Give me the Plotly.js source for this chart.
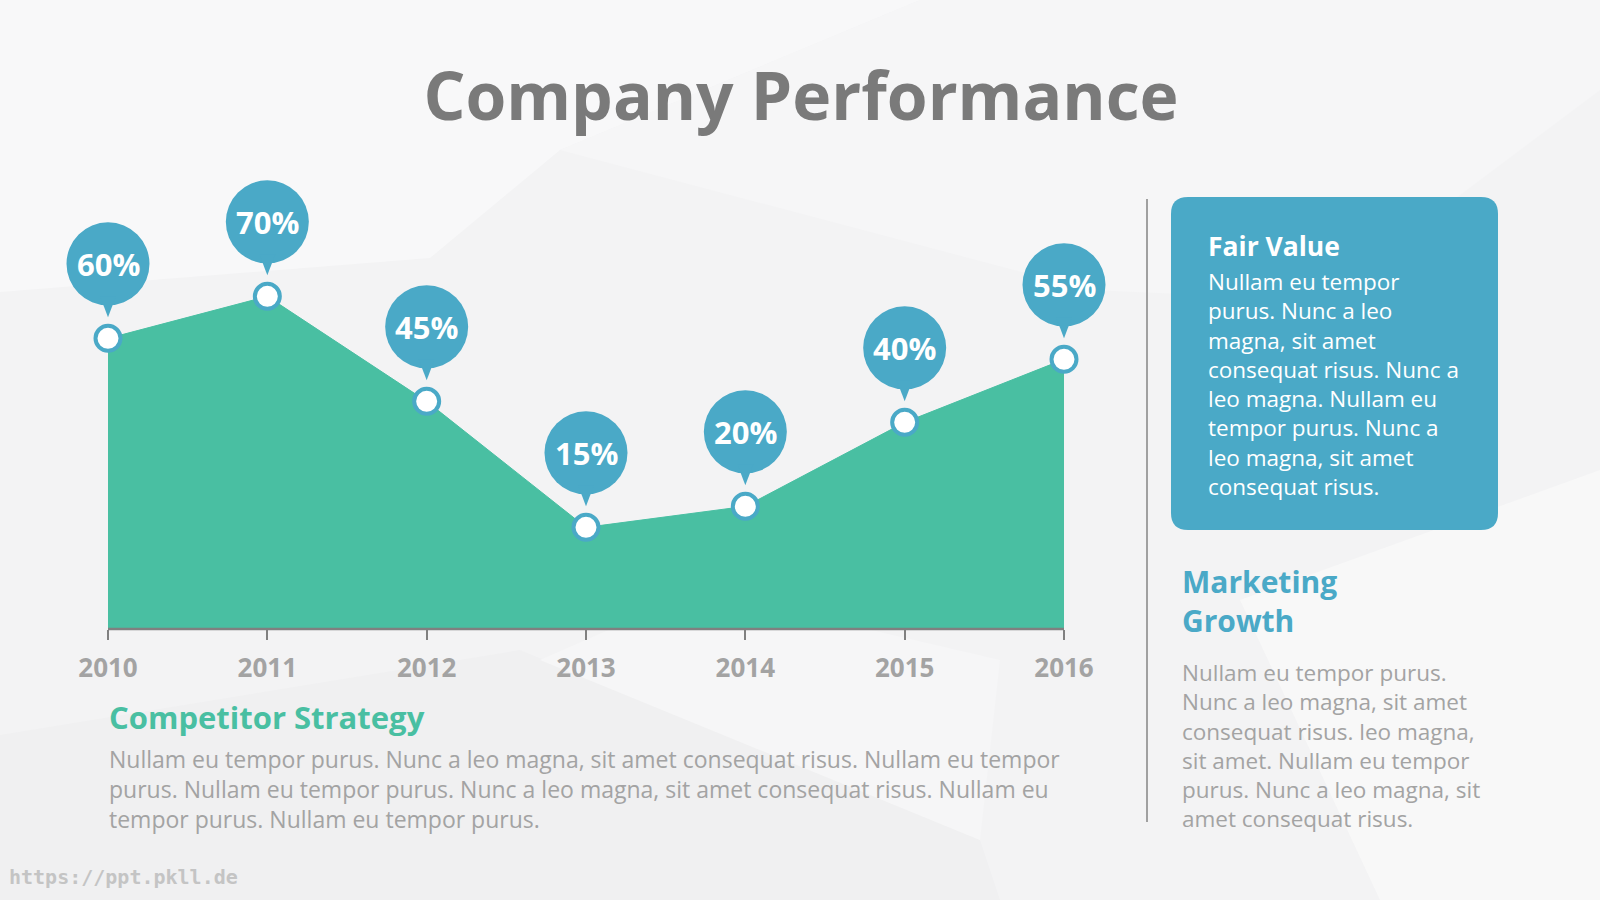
<!DOCTYPE html>
<html>
<head>
<meta charset="utf-8">
<script src="https://cdn.plot.ly/plotly-3.0.1.min.js"></script>
<style>
html,body{margin:0;padding:0;background:#F3F3F4;}
#chart{width:1600px;height:900px;}
</style>
</head>
<body>
<div id="chart"></div>
<script>
// ---------------- data ----------------
const years = [2010, 2011, 2012, 2013, 2014, 2015, 2016];
const growth = [60, 70, 45, 15, 20, 40, 55];
const tickLabels = ['2010', '2011', '2012', '2013', '2014', '2015', '2016'];
const pageTitle = 'Company Performance';
const fairValueTitle = 'Fair Value';
const fairValueLines = ['Nullam eu tempor', 'purus. Nunc a leo', 'magna, sit amet', 'consequat risus. Nunc a',
  'leo magna. Nullam eu', 'tempor purus. Nunc a', 'leo magna, sit amet', 'consequat risus.'];
const marketingTitleLines = ['Marketing', 'Growth'];
const marketingLines = ['Nullam eu tempor purus.', 'Nunc a leo magna, sit amet', 'consequat risus. leo magna,',
  'sit amet. Nullam eu tempor', 'purus. Nunc a leo magna, sit', 'amet consequat risus.'];
const competitorTitle = 'Competitor Strategy';
const competitorLines = ['Nullam eu tempor purus. Nunc a leo magna, sit amet consequat risus. Nullam eu tempor',
  'purus. Nullam eu tempor purus. Nunc a leo magna, sit amet consequat risus. Nullam eu',
  'tempor purus. Nullam eu tempor purus.'];
const watermark = 'https://ppt.pkll.de';

// ---------------- styles / layout geometry ----------------
const GREEN = '#49BFA2', BLUE = '#4AA9C7', GREY_T = '#7A7A7A', GREY_TXT = '#A3A3A3';
const FONT = 'Open Sans, Noto Sans, sans-serif';
const PLOT = {l: 40, r: 1130, t: 150, b: 629};         // plot area in pixels
const X_FIRST_PX = 108, X_LAST_PX = 1064;               // where first/last year sit
const pxPerYear = (X_LAST_PX - X_FIRST_PX) / (years[years.length - 1] - years[0]);
const xRange = [years[0] - (X_FIRST_PX - PLOT.l) / pxPerYear,
                years[years.length - 1] + (PLOT.r - X_LAST_PX) / pxPerYear];
const Y_BASE = -9.2, pxPerUnit = 4.2;
const yRange = [Y_BASE, Y_BASE + (PLOT.b - PLOT.t) / pxPerUnit];

const px2paperX = X => (X - PLOT.l) / (PLOT.r - PLOT.l);
const px2paperY = Y => (PLOT.b - Y) / (PLOT.b - PLOT.t);

function textLine(text, X, Y, size, color, weight, family) {
  return {xref: 'paper', yref: 'paper', x: px2paperX(X), y: px2paperY(Y), xanchor: 'left', yanchor: 'middle',
    align: 'left', text: text, showarrow: false,
    font: {family: family || FONT, size: size, color: color, weight: weight || 400}};
}
// multi-line block, centred vertically between first and last line positions
function paragraph(lines, X, yFirst, yLast, size, color, weight) {
  return textLine(lines.join('<br>'), X, (yFirst + yLast) / 2, size, color, weight);
}
function roundRectPath(x0, y0, x1, y1, r) {
  const P = (x, y) => px2paperX(x).toFixed(5) + ',' + px2paperY(y).toFixed(5);
  return 'M' + P(x0 + r, y0) + ' L' + P(x1 - r, y0) + ' Q' + P(x1, y0) + ' ' + P(x1, y0 + r) +
    ' L' + P(x1, y1 - r) + ' Q' + P(x1, y1) + ' ' + P(x1 - r, y1) +
    ' L' + P(x0 + r, y1) + ' Q' + P(x0, y1) + ' ' + P(x0, y1 - r) +
    ' L' + P(x0, y0 + r) + ' Q' + P(x0, y0) + ' ' + P(x0 + r, y0) + ' Z';
}
function polyPath(pts) {
  return pts.map((p, i) => (i ? 'L' : 'M') + px2paperX(p[0]).toFixed(5) + ',' + px2paperY(p[1]).toFixed(5)).join(' ') + ' Z';
}

// ---------------- traces ----------------
const traces = [
  {x: years, y: years.map(() => Y_BASE), mode: 'lines', line: {width: 0, color: GREEN},
   hoverinfo: 'skip', showlegend: false},
  {x: years, y: growth, mode: 'lines', fill: 'tonexty', fillcolor: GREEN,
   line: {width: 1, color: GREEN}, hoverinfo: 'skip', showlegend: false},
  {x: years, y: growth, mode: 'markers', cliponaxis: false,
   marker: {size: 25, color: '#FFFFFF', line: {color: BLUE, width: 4}},
   hoverinfo: 'skip', showlegend: false}
];

// ---------------- shapes ----------------
const shapes = [];
// subtle low-poly background
const bgPolys = [
  {pts: [[0,0],[920,0],[560,150],[430,258],[0,292]], c: '#F8F8F9'},
  {pts: [[920,0],[1600,0],[1600,90],[1320,300],[1090,290],[560,150]], c: '#F6F6F7'},
  {pts: [[1240,600],[1600,470],[1600,900],[1380,900]], c: '#F8F8F8'},
  {pts: [[0,735],[520,650],[980,840],[1000,900],[0,900]], c: '#F0F0F1'},
  {pts: [[540,660],[700,590],[1000,660],[980,840]], c: '#F6F6F7'}
];
bgPolys.forEach(p => shapes.push({type: 'path', xref: 'paper', yref: 'paper', layer: 'below',
  path: polyPath(p.pts), fillcolor: p.c, line: {width: 0}}));
// axis line between first and last year
shapes.push({type: 'line', xref: 'x', yref: 'paper', x0: years[0], x1: years[years.length - 1], y0: 0, y1: 0,
  line: {color: '#808080', width: 2.5}});
// pins above each point
years.forEach((yr, i) => {
  shapes.push({type: 'circle', xref: 'x', yref: 'y', xsizemode: 'pixel', ysizemode: 'pixel',
    xanchor: yr, yanchor: growth[i], x0: -41.5, x1: 41.5, y0: 33, y1: 116,
    fillcolor: BLUE, line: {width: 0}});
  shapes.push({type: 'path', xref: 'x', yref: 'y', xsizemode: 'pixel', ysizemode: 'pixel',
    xanchor: yr, yanchor: growth[i], path: 'M-8,42 L8,42 L0,21 Z',
    fillcolor: BLUE, line: {width: 0}});
});
// right panel: separator + box
shapes.push({type: 'line', xref: 'paper', yref: 'paper', x0: px2paperX(1147), x1: px2paperX(1147),
  y0: px2paperY(199), y1: px2paperY(822), line: {color: '#A0A0A0', width: 2}});
shapes.push({type: 'path', xref: 'paper', yref: 'paper', path: roundRectPath(1171, 197, 1498, 530, 17),
  fillcolor: BLUE, line: {width: 0}});

// ---------------- annotations ----------------
const annotations = [];
years.forEach((yr, i) => annotations.push({x: yr, y: growth[i], xref: 'x', yref: 'y', yshift: 74.5,
  text: growth[i] + '%', showarrow: false, xanchor: 'center', yanchor: 'middle',
  font: {family: FONT, size: 31, color: '#FFFFFF', weight: 700}}));
annotations.push(textLine(fairValueTitle, 1206, 246, 26.5, '#FFFFFF', 700));
annotations.push(paragraph(fairValueLines, 1206, 286, 481, 22.5, '#FFFFFF', 400));
annotations.push(paragraph(marketingTitleLines, 1180, 582, 619, 30, BLUE, 700));
annotations.push(paragraph(marketingLines, 1180, 675.5, 815, 22.5, GREY_TXT, 400));
annotations.push(textLine(competitorTitle, 107, 717, 31, GREEN, 700));
annotations.push(paragraph(competitorLines, 107, 761, 816, 23, GREY_TXT, 400));
annotations.push(textLine(watermark, 7, 877, 20, '#C4C4C4', 700, 'DejaVu Sans Mono, monospace'));

// ---------------- layout ----------------
const layout = {
  width: 1600, height: 900,
  margin: {l: PLOT.l, r: 1600 - PLOT.r, t: PLOT.t, b: 900 - PLOT.b, pad: 0},
  paper_bgcolor: '#F3F3F4', plot_bgcolor: 'rgba(0,0,0,0)',
  showlegend: false,
  title: {text: pageTitle, x: 801 / 1600, xref: 'container', xanchor: 'center',
    y: 1 - 97 / 900, yref: 'container', yanchor: 'middle',
    font: {family: FONT, size: 66, color: GREY_T, weight: 700}},
  xaxis: {range: xRange, tickvals: years, ticktext: tickLabels, ticks: 'outside', ticklen: 10,
    tickwidth: 2, tickcolor: '#808080', showline: false, showgrid: false, zeroline: false,
    ticklabelstandoff: 6, fixedrange: true,
    tickfont: {family: FONT, size: 26, color: GREY_TXT, weight: 700}},
  yaxis: {range: yRange, visible: false, fixedrange: true, showgrid: false, zeroline: false},
  shapes: shapes,
  annotations: annotations
};

Plotly.newPlot('chart', traces, layout, {displayModeBar: false, staticPlot: true});
</script>
</body>
</html>
